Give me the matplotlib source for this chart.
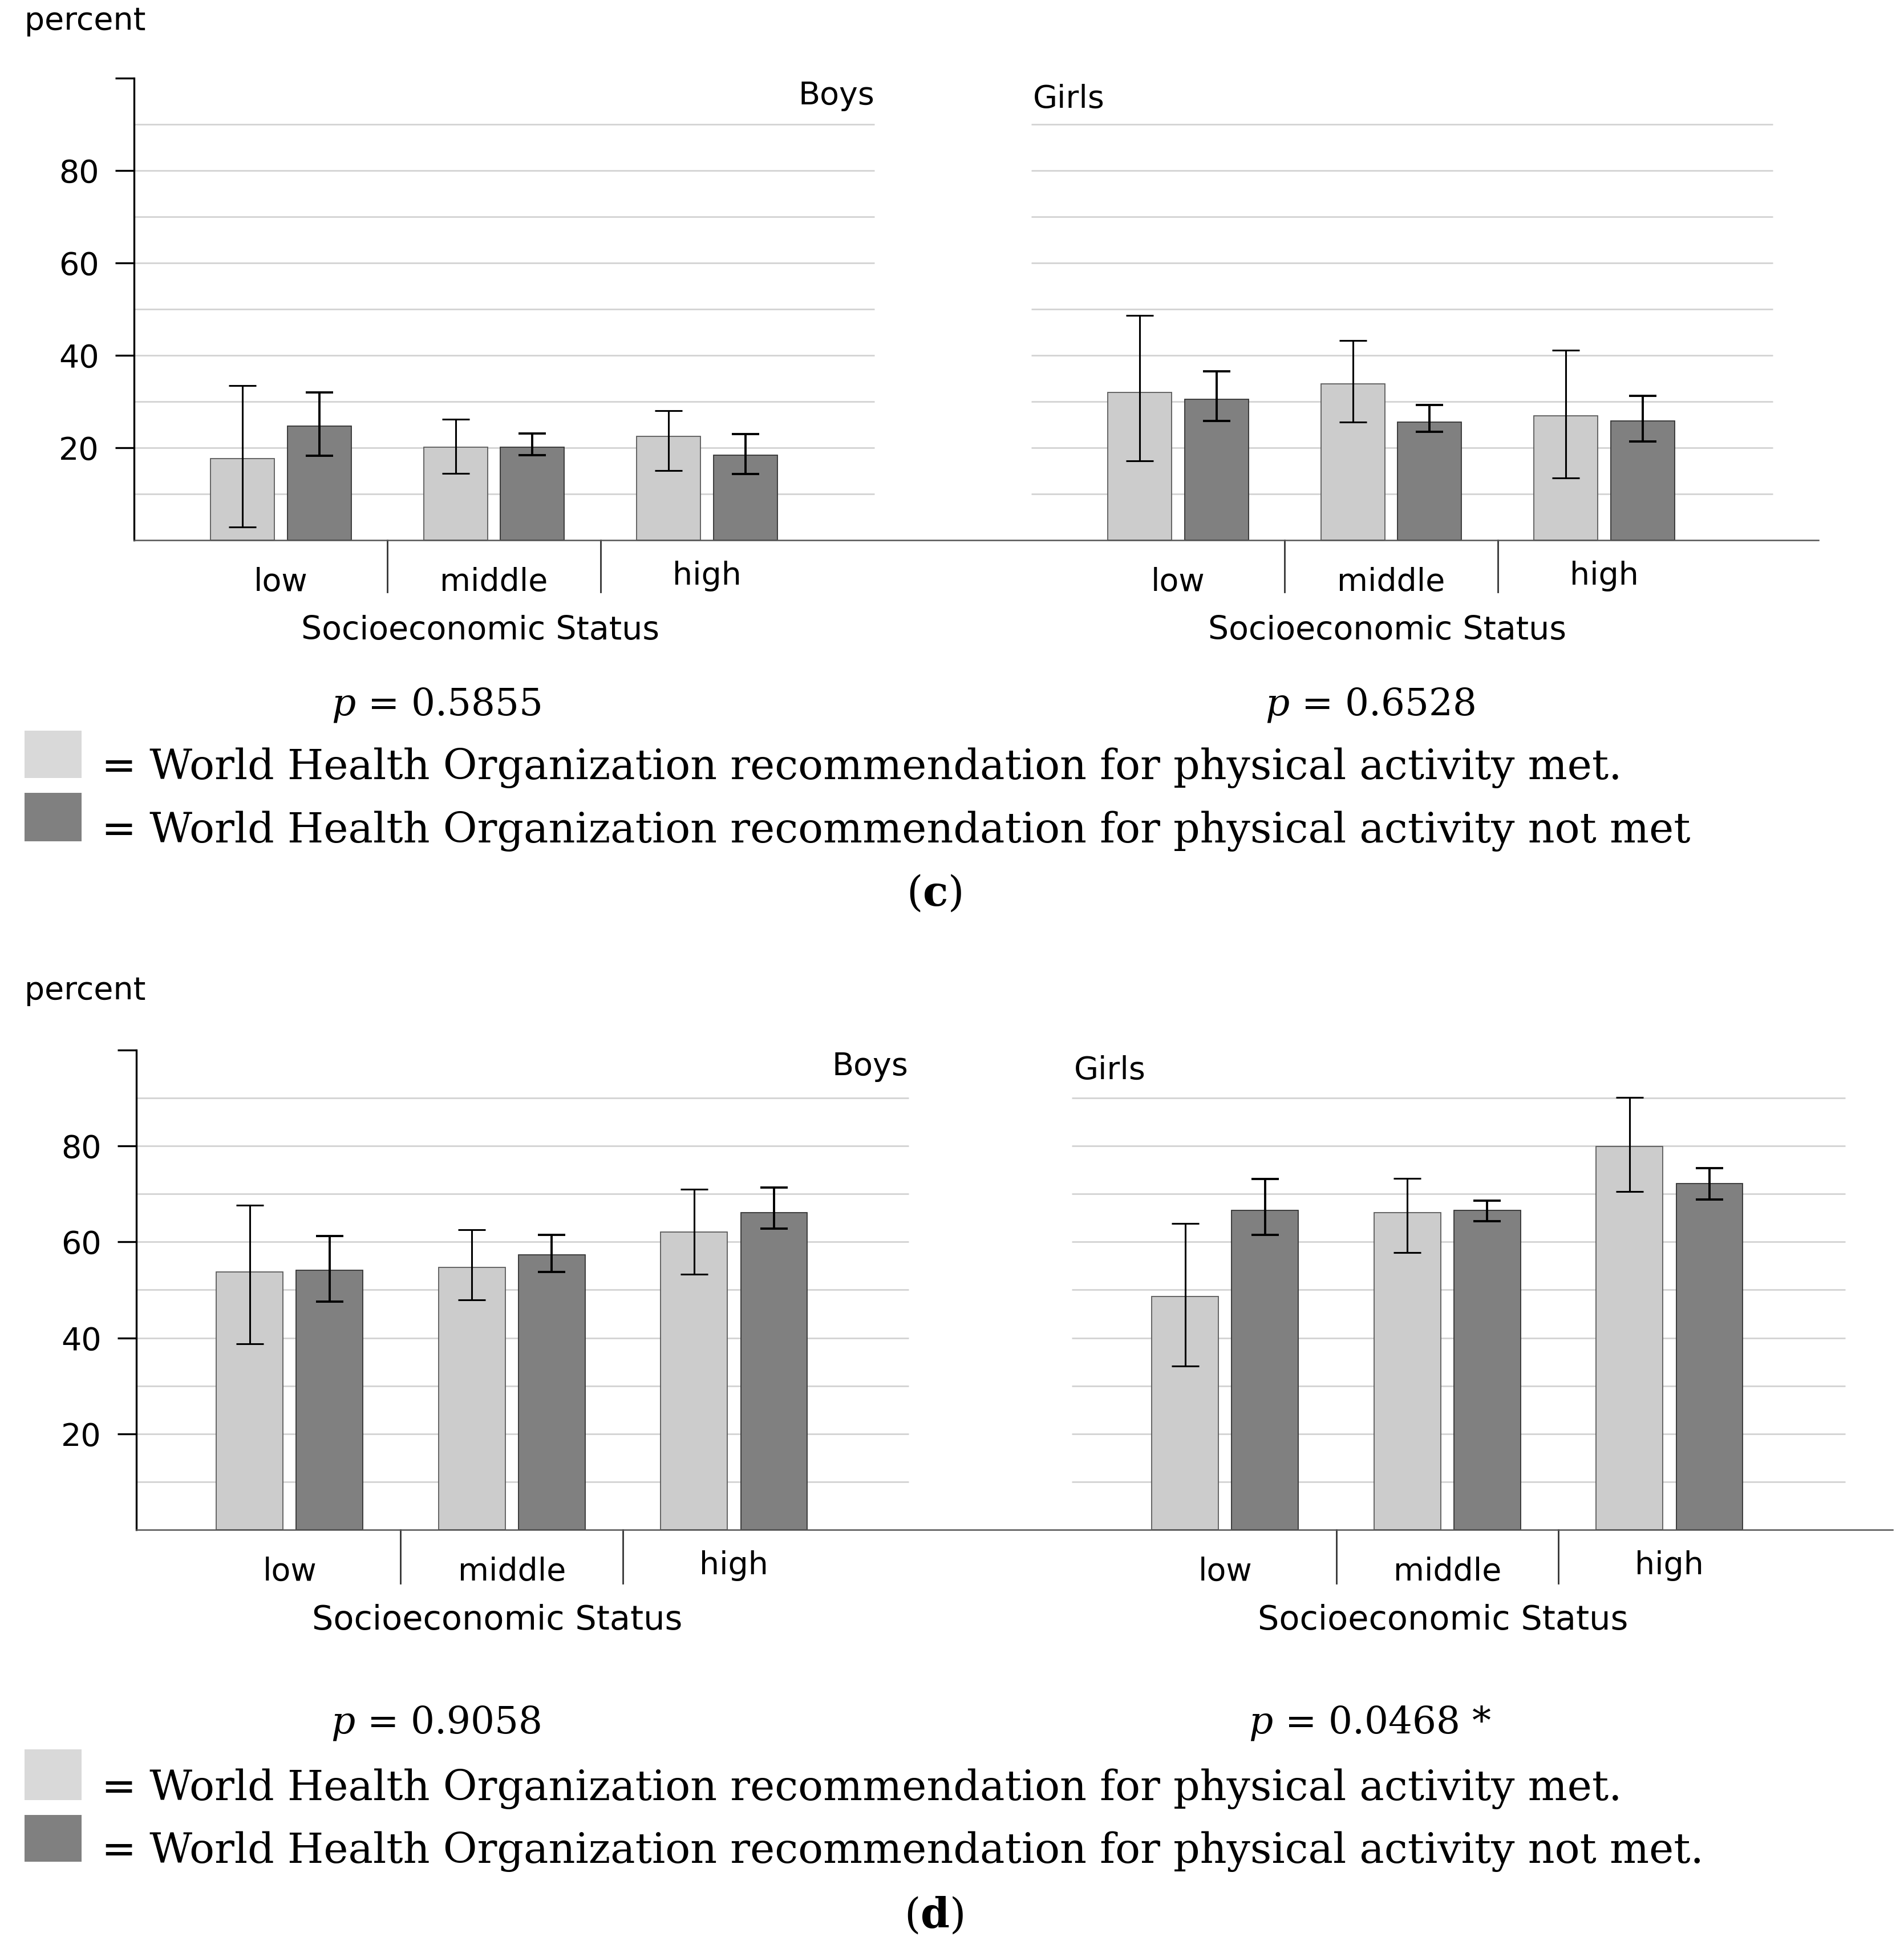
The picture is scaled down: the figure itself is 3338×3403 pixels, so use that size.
import matplotlib
matplotlib.use('Agg')
import matplotlib.pyplot as plt
from matplotlib.patches import Rectangle
from matplotlib.transforms import blended_transform_factory

W, H, DPI = 3338, 3403, 100
S = 3338 / 1537.0          # reference layout units -> pixels
PT = S * 72.0 / DPI        # reference layout units -> points

# ---------------- data ----------------
categories = ['low', 'middle', 'high']
sexes = ['Boys', 'Girls']
xlabel = 'Socioeconomic Status'
ylabel = 'percent'
yticks = [20, 40, 60, 80]

# panel (c)
c_boys_met = [17.6, 20.1, 22.4]
c_boys_met_lo = [2.8, 14.4, 15.1]
c_boys_met_hi = [33.5, 26.2, 28.0]
c_boys_not = [24.7, 20.1, 18.4]
c_boys_not_lo = [18.2, 18.4, 14.3]
c_boys_not_hi = [31.9, 23.1, 23.0]
c_girls_met = [31.9, 33.8, 26.9]
c_girls_met_lo = [17.1, 25.6, 13.5]
c_girls_met_hi = [48.6, 43.2, 41.1]
c_girls_not = [30.5, 25.6, 25.8]
c_girls_not_lo = [25.8, 23.5, 21.4]
c_girls_not_hi = [36.5, 29.2, 31.2]
c_pvalues = ['0.5855', '0.6528']
c_legend = ['= World Health Organization recommendation for physical activity met.',
            '= World Health Organization recommendation for physical activity not met']

# panel (d)
d_boys_met = [53.7, 54.7, 62.0]
d_boys_met_lo = [38.8, 47.9, 53.2]
d_boys_met_hi = [67.6, 62.5, 70.9]
d_boys_not = [54.1, 57.3, 66.1]
d_boys_not_lo = [47.5, 53.7, 62.7]
d_boys_not_hi = [61.2, 61.5, 71.3]
d_girls_met = [48.6, 66.1, 79.9]
d_girls_met_lo = [34.1, 57.8, 70.5]
d_girls_met_hi = [63.8, 73.2, 90.1]
d_girls_not = [66.6, 66.6, 72.1]
d_girls_not_lo = [61.5, 64.3, 68.8]
d_girls_not_hi = [73.1, 68.6, 75.4]
d_pvalues = ['0.9058', '0.0468 *']
d_legend = ['= World Health Organization recommendation for physical activity met.',
            '= World Health Organization recommendation for physical activity not met.']

# ---------------- style ----------------
plt.rcParams['font.family'] = ['DejaVu Sans']
plt.rcParams['mathtext.fontset'] = 'dejavuserif'
SANS = 40
SERIF = 52.5
PSIZE = 47.5
LIGHT, LIGHT_EDGE = '#cccccc', '#5a5a5a'
DARK, DARK_EDGE = '#808080', '#333333'
GRID = '#d3d3d3'
GIRL_SHIFT = 4.21
BW, OFF = 0.30, 0.18
XLIM = (-0.69, 7.215)
GRID_SEGS = [(-0.69, 2.785), (3.52, 7.0)]
SES_SHIFT = [-0.065, -0.02]

fig = plt.figure(figsize=(W / DPI, H / DPI), dpi=DPI)
fig.patch.set_facecolor('white')


def fx(x):
    return x * S / W


def fy(y):
    return 1 - y * S / H


def panel(left, right, y0, y100, data, pvals, legend, tag,
          top_y, p_y, leg_y, tag_y, boys_y, girls_y, ses_size):
    ax = fig.add_axes([fx(left), fy(y0), fx(right) - fx(left), fy(y100) - fy(y0)])
    ax.set_xlim(*XLIM)
    ax.set_ylim(0, 100)
    ax.patch.set_alpha(0)
    for s in ['top', 'right']:
        ax.spines[s].set_visible(False)
    ax.spines['left'].set_linewidth(2.4)
    ax.spines['left'].set_color('black')
    ax.spines['bottom'].set_linewidth(1.8)
    ax.spines['bottom'].set_color('#555555')
    ax.spines['left'].set_bounds(0, 100)
    ax.set_xticks([])
    ax.set_yticks(yticks + [100])
    ax.set_yticklabels([str(t) for t in yticks] + [''])
    ax.tick_params(axis='y', length=24, width=2.4, pad=20, labelsize=SANS)
    gl = list(range(10, 100, 10))
    for a, b in GRID_SEGS:
        ax.hlines(gl, a, b, colors=GRID, linewidth=2.0, zorder=0)

    trans = blended_transform_factory(ax.transData, ax.transAxes)
    for k, sex in enumerate(sexes):
        met, met_lo, met_hi, nmet, nmet_lo, nmet_hi = data[k]
        base = [i + k * GIRL_SHIFT for i in range(len(categories))]
        xm = [b - OFF for b in base]
        xn = [b + OFF for b in base]
        ax.bar(xm, met, BW, color=LIGHT, edgecolor=LIGHT_EDGE, linewidth=1.3, zorder=2)
        ax.bar(xn, nmet, BW, color=DARK, edgecolor=DARK_EDGE, linewidth=1.3, zorder=2)
        ax.errorbar(xm, met, yerr=[[m - l for m, l in zip(met, met_lo)],
                                   [h - m for m, h in zip(met, met_hi)]],
                    fmt='none', ecolor='black', elinewidth=2.2, capsize=17,
                    capthick=2.2, zorder=3)
        ax.errorbar(xn, nmet, yerr=[[m - l for m, l in zip(nmet, nmet_lo)],
                                    [h - m for m, h in zip(nmet, nmet_hi)]],
                    fmt='none', ecolor='black', elinewidth=2.8, capsize=17,
                    capthick=2.8, zorder=3)
        # separators between categories
        for i in range(len(categories) - 1):
            xs = (base[i] + base[i + 1]) / 2
            ax.plot([xs, xs], [0, -0.112], transform=trans, color='#333333',
                    linewidth=2.0, clip_on=False)
        for i, cat in enumerate(categories):
            dy = 29 if cat == 'high' else 34
            ax.annotate(cat, xy=(base[i], 0), xycoords=trans,
                        xytext=(0, -dy * PT), textcoords='offset points',
                        ha='center', va='center', fontsize=SANS)
        ax.annotate(xlabel, xy=(base[1] + SES_SHIFT[k], 0), xycoords=trans,
                    xytext=(0, -73 * PT), textcoords='offset points',
                    ha='center', va='center', fontsize=ses_size)
    # sex labels
    ax.text(GRID_SEGS[0][1], boys_y, sexes[0], ha='right', va='center', fontsize=SANS)
    ax.text(GRID_SEGS[1][0] + 0.01, girls_y, sexes[1], ha='left', va='center', fontsize=SANS)

    fig.text(fx(20), fy(top_y), ylabel, ha='left', va='center', fontsize=SANS)
    for px, pv in zip([352, 1106], pvals):
        fig.text(fx(px), fy(p_y), r'$p$ = ' + pv, ha='center', va='baseline',
                 fontsize=PSIZE, family='DejaVu Serif')
    cols = ['#d9d9d9', '#808080']
    for j, (txt, col) in enumerate(zip(legend, cols)):
        ptop, pbot, base_y = leg_y[j]
        fig.patches.append(Rectangle((fx(20), fy(pbot)), fx(66) - fx(20), fy(ptop) - fy(pbot),
                                     transform=fig.transFigure, facecolor=col,
                                     edgecolor='none'))
        fig.text(fx(82), fy(base_y), txt, ha='left', va='baseline',
                 fontsize=SERIF, family='DejaVu Serif')
    fig.text(fx(754), fy(tag_y), r'($\mathbf{' + tag + '}$)', ha='center', va='baseline',
             fontsize=SERIF, family='DejaVu Serif')
    return ax


c_data = [(c_boys_met, c_boys_met_lo, c_boys_met_hi, c_boys_not, c_boys_not_lo, c_boys_not_hi),
          (c_girls_met, c_girls_met_lo, c_girls_met_hi, c_girls_not, c_girls_not_lo, c_girls_not_hi)]
d_data = [(d_boys_met, d_boys_met_lo, d_boys_met_hi, d_boys_not, d_boys_not_lo, d_boys_not_hi),
          (d_girls_met, d_girls_met_lo, d_girls_met_hi, d_girls_not, d_girls_not_lo, d_girls_not_hi)]

panel(108, 1468, 436, 63, c_data, c_pvalues, c_legend, 'c',
      top_y=17, p_y=577, leg_y=[(590, 628, 629), (640, 679, 680)], tag_y=731,
      boys_y=96.2, girls_y=95.4, ses_size=41)
panel(110, 1528, 1235, 847.5, d_data, d_pvalues, d_legend, 'd',
      top_y=800, p_y=1399, leg_y=[(1412, 1453, 1453), (1465, 1503, 1504)], tag_y=1556,
      boys_y=96.5, girls_y=95.7, ses_size=42.5)

fig.savefig('out.png', dpi=DPI)
